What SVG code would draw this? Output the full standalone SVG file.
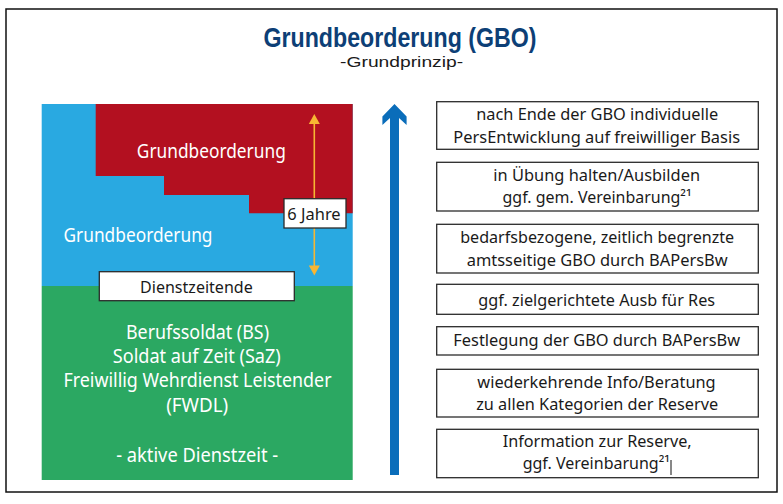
<svg xmlns="http://www.w3.org/2000/svg" width="783" height="504" viewBox="0 0 783 504">
<defs>
<style>
.t{font-family:"Noto Sans","Open Sans","DejaVu Sans",sans-serif;text-anchor:middle}
.h{font-family:"Liberation Sans","Arimo",sans-serif;text-anchor:middle}
.w{fill:#ffffff;font-size:19px}
.b{fill:#1a1a1a;font-size:16.5px}
.box{fill:#ffffff;stroke:#2b2b2b;stroke-width:1.3}
</style>
</defs>
<rect x="0" y="0" width="783" height="504" fill="#ffffff"/>
<rect x="6" y="9" width="771" height="483" fill="none" stroke="#111111" stroke-width="1.5"/>
<g id="title">
<text class="h" x="400" y="47" font-size="27.5" font-weight="bold" fill="#0d3f76" textLength="273" lengthAdjust="spacingAndGlyphs">Grundbeorderung (GBO)</text>
<text class="h" x="401.6" y="67" font-size="14.5" fill="#1a1a1a" textLength="123" lengthAdjust="spacingAndGlyphs">-Grundprinzip-</text>
</g>
<g id="panel">
<rect x="41.7" y="104" width="311" height="182" fill="#29a9e1"/>
<polygon points="95.7,104 352.7,104 352.7,213.3 249,213.3 249,195 164,195 164,176 95.7,176" fill="#b31020"/>
<rect x="41.7" y="286" width="311" height="194" fill="#2ba862"/>
<text class="t w" x="211.3" y="158" textLength="149" lengthAdjust="spacingAndGlyphs">Grundbeorderung</text>
<text class="t w" x="138" y="241.7" textLength="149" lengthAdjust="spacingAndGlyphs">Grundbeorderung</text>
<text class="t w" x="197.5" y="339" textLength="143" lengthAdjust="spacingAndGlyphs">Berufssoldat (BS)</text>
<text class="t w" x="196.8" y="363" textLength="168" lengthAdjust="spacingAndGlyphs">Soldat auf Zeit (SaZ)</text>
<text class="t w" x="197.5" y="387" textLength="268" lengthAdjust="spacingAndGlyphs">Freiwillig Wehrdienst Leistender</text>
<text class="t w" x="197.2" y="411.7" textLength="62" lengthAdjust="spacingAndGlyphs">(FWDL)</text>
<text class="t w" x="197.2" y="461.7" textLength="162" lengthAdjust="spacingAndGlyphs">- aktive Dienstzeit -</text>
</g>
<g id="connectors">
<line x1="314.3" y1="122" x2="314.3" y2="267" stroke="#f7b633" stroke-width="1.6"/>
<polygon points="314.3,114 319.8,124 308.8,124" fill="#f7b633"/>
<polygon points="314.3,275.5 319.8,265.5 308.8,265.5" fill="#f7b633"/>
<polygon points="394.5,104 406.6,116.5 406.6,125 399,118 399,475 390,475 390,118 382.4,125 382.4,116.5" fill="#0a6dba"/>
</g>
<g id="dienstzeitende">
<rect class="box" x="99.3" y="271.7" width="195" height="29"/>
<text class="t b" x="196.4" y="292.5" textLength="112.7" lengthAdjust="spacingAndGlyphs">Dienstzeitende</text>
</g>
<g id="sechs-jahre">
<rect class="box" x="284" y="198.7" width="62" height="29.3"/>
<text class="t b" x="314" y="220" textLength="53.3" lengthAdjust="spacingAndGlyphs">6 Jahre</text>
</g>
<g id="box1">
<rect class="box" x="436.7" y="101.7" width="321.6" height="47.6"/>
<text class="t b" x="597.2" y="120" textLength="242" lengthAdjust="spacingAndGlyphs">nach Ende der GBO individuelle</text>
<text class="t b" x="596.7" y="142.7" textLength="286.7" lengthAdjust="spacingAndGlyphs">PersEntwicklung auf freiwilliger Basis</text>
</g>
<g id="box2">
<rect class="box" x="436.7" y="162.3" width="321.6" height="48.7"/>
<text class="t b" x="596.7" y="180.7" textLength="206.7" lengthAdjust="spacingAndGlyphs">in Übung halten/Ausbilden</text>
<text class="t b" x="597" y="203.3" textLength="189" lengthAdjust="spacingAndGlyphs">ggf. gem. Vereinbarung²¹</text>
</g>
<g id="box3">
<rect class="box" x="436.7" y="224.3" width="321.6" height="48.7"/>
<text class="t b" x="597.2" y="243.3" textLength="274" lengthAdjust="spacingAndGlyphs">bedarfsbezogene, zeitlich begrenzte</text>
<text class="t b" x="597.2" y="266" textLength="261" lengthAdjust="spacingAndGlyphs">amtsseitige GBO durch BAPersBw</text>
</g>
<g id="box4">
<rect class="box" x="436.7" y="284.3" width="321.6" height="30"/>
<text class="t b" x="596.7" y="306" textLength="236.7" lengthAdjust="spacingAndGlyphs">ggf. zielgerichtete Ausb für Res</text>
</g>
<g id="box5">
<rect class="box" x="436.7" y="326.7" width="321.6" height="28.3"/>
<text class="t b" x="596.7" y="345.5" textLength="286.7" lengthAdjust="spacingAndGlyphs">Festlegung der GBO durch BAPersBw</text>
</g>
<g id="box6">
<rect class="box" x="436.7" y="369.3" width="321.6" height="47.7"/>
<text class="t b" x="596.5" y="388.3" textLength="238.3" lengthAdjust="spacingAndGlyphs">wiederkehrende Info/Beratung</text>
<text class="t b" x="597.2" y="410" textLength="242" lengthAdjust="spacingAndGlyphs">zu allen Kategorien der Reserve</text>
</g>
<g id="box7">
<rect class="box" x="436.7" y="429.3" width="321.6" height="48.4"/>
<text class="t b" x="597.2" y="446.7" textLength="189" lengthAdjust="spacingAndGlyphs">Information zur Reserve,</text>
<text class="t b" x="596.3" y="469.3" textLength="147.3" lengthAdjust="spacingAndGlyphs">ggf. Vereinbarung²¹</text>
<line x1="671" y1="460" x2="671" y2="475" stroke="#111111" stroke-width="1"/>
</g>
</svg>
